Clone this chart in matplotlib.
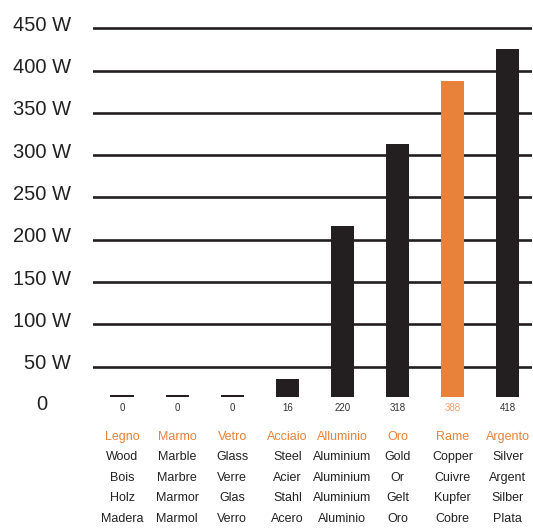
import matplotlib.pyplot as plt
from matplotlib.transforms import ScaledTranslation

# dati
it_names = ["Legno", "Marmo", "Vetro", "Acciaio", "Alluminio", "Oro", "Rame", "Argento"]
en_names = ["Wood", "Marble", "Glass", "Steel", "Aluminium", "Gold", "Copper", "Silver"]
fr_names = ["Bois", "Marbre", "Verre", "Acier", "Aluminium", "Or", "Cuivre", "Argent"]
de_names = ["Holz", "Marmor", "Glas", "Stahl", "Aluminium", "Gelt", "Kupfer", "Silber"]
es_names = ["Madera", "Marmol", "Verro", "Acero", "Aluminio", "Oro", "Cobre", "Plata"]
values = [0, 0, 0, 16, 220, 318, 388, 418]          # numeri stampati sotto le barre
bar_top = [0, 0, 0, 35, 216, 313, 388, 426]         # altezza disegnata delle barre
yticks = [50, 100, 150, 200, 250, 300, 350, 400, 450]

ORANGE = "#e8823a"
DARK = "#231f20"
baseline = 14  # le barre partono sopra la riga dei numeri

plt.rcParams['font.family'] = ['Liberation Sans', 'DejaVu Sans']

fig = plt.figure(figsize=(5.33, 5.28), dpi=100)
ax = fig.add_axes([93 / 533, 1 - 409 / 528, 439 / 533, 389 / 528])

x = list(range(len(it_names)))
colors = [ORANGE if n == "Rame" else DARK for n in it_names]
heights = [max(t - baseline, 3) for t in bar_top]
ax.bar(x, heights, bottom=baseline, width=0.42, color=colors, zorder=3)

ax.set_xlim(-0.527, 7.44)
ax.set_ylim(0, 459.8)

ax.set_yticks(yticks)
ax.set_yticklabels([f"{v} W" for v in yticks], fontsize=14.5, color="#222222")
ax.tick_params(axis='y', length=0, pad=16)
ax.tick_params(axis='x', length=0, labelbottom=False)
off = ScaledTranslation(0, 5 / 100, fig.dpi_scale_trans)
for lab in ax.get_yticklabels():
    lab.set_transform(lab.get_transform() + off)
ax.yaxis.grid(True, color=DARK, linewidth=1.9, zorder=1)
for s in ax.spines.values():
    s.set_visible(False)

fig.text(42 / 533, 1 - 405 / 528, "0", fontsize=14.5,
         color="#222222", ha='center', va='center')

# numeri sotto le barre
for i, v in enumerate(values):
    ax.annotate(str(v), xy=(i, 0), xytext=(0, 1), textcoords='offset pixels',
                ha='center', va='center', fontsize=7,
                color="#f0a070" if it_names[i] == "Rame" else "#333333")

# nomi dei materiali
rows = [it_names, en_names, fr_names, de_names, es_names]
offsets = [-28, -48, -69, -89, -110]
for r, (names, dy) in enumerate(zip(rows, offsets)):
    for i, n in enumerate(names):
        ax.annotate(n, xy=(i, 0), xytext=(0, dy), textcoords='offset pixels',
                    ha='center', va='center', fontsize=9,
                    color=ORANGE if r == 0 else "#222222", annotation_clip=False)

fig.savefig("out.png", dpi=100)
